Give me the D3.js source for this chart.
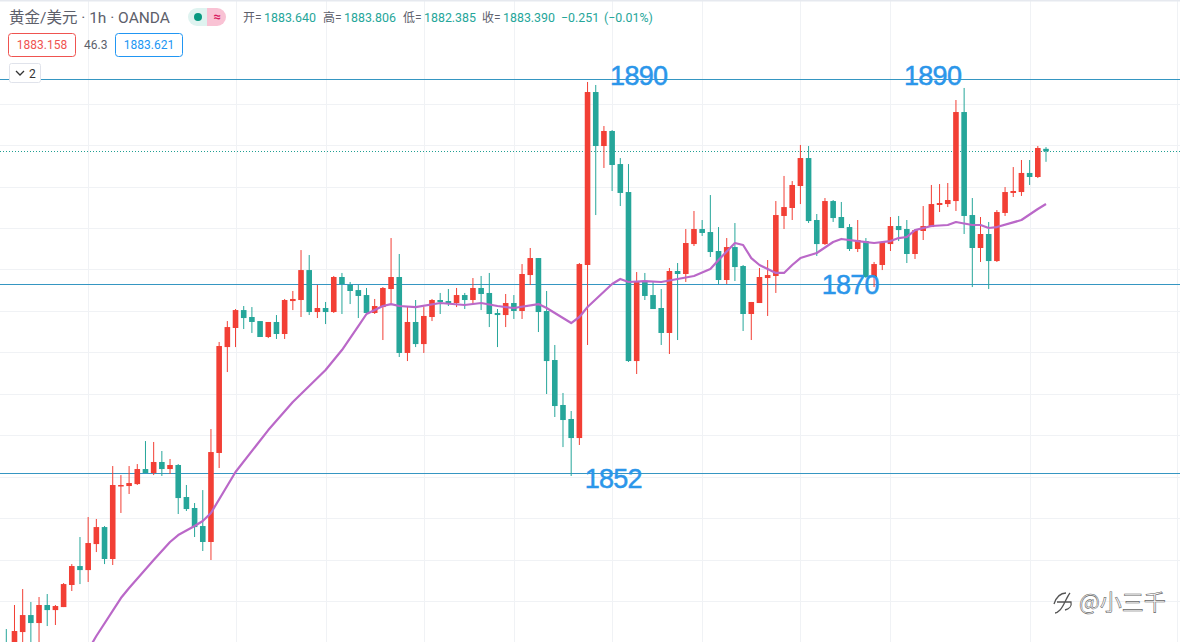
<!DOCTYPE html>
<html><head><meta charset="utf-8">
<style>html,body{margin:0;padding:0;background:#fff;overflow:hidden}svg{display:block}
text{font-family:Roboto,"Noto Sans CJK SC",sans-serif}</style>
<script src="https://cdn.jsdelivr.net/npm/d3@7/dist/d3.min.js"></script>
</head><body><svg id="c" width="1180" height="642"></svg>
<script>
const opens=[1835.85,1835.27,1837.01,1838.65,1837.88,1839.62,1839.13,1839.42,1841.55,1843.38,1842.99,1845.50,1847.14,1844.06,1851.10,1851.10,1851.29,1852.74,1852.36,1853.42,1852.74,1853.13,1850.04,1848.98,1847.24,1845.70,1854.29,1864.51,1866.35,1868.08,1867.41,1867.02,1865.48,1866.93,1865.77,1868.95,1869.05,1871.94,1867.89,1868.28,1867.89,1871.27,1870.50,1870.01,1869.53,1867.80,1868.37,1870.11,1871.27,1863.94,1866.93,1864.80,1867.41,1869.05,1868.95,1868.76,1869.53,1869.05,1870.21,1869.73,1867.80,1867.60,1868.76,1867.99,1871.46,1873.10,1867.99,1863.26,1858.92,1857.57,1855.73,1872.43,1889.12,1883.91,1885.36,1882.17,1879.47,1863.16,1870.79,1869.53,1868.28,1865.87,1871.85,1871.56,1874.45,1875.90,1875.61,1873.78,1870.98,1874.16,1872.33,1867.70,1868.76,1871.17,1871.37,1877.16,1877.93,1880.05,1882.75,1876.77,1874.45,1878.60,1877.06,1876.09,1873.97,1874.74,1871.27,1872.43,1874.45,1876.19,1875.90,1873.49,1875.71,1876.09,1878.22,1878.31,1878.60,1887.19,1877.25,1874.07,1875.42,1872.81,1877.45,1879.38,1879.47,1881.31,1880.92,1883.64];
const highs=[1837.30,1839.62,1841.16,1839.91,1840.39,1840.68,1839.62,1841.74,1843.57,1846.18,1848.11,1847.92,1847.24,1853.03,1852.16,1853.03,1853.22,1855.44,1855.35,1854.48,1853.71,1853.22,1851.20,1849.46,1850.71,1856.60,1865.00,1867.02,1868.18,1868.47,1868.37,1867.02,1866.93,1867.60,1869.15,1869.92,1873.87,1873.39,1870.50,1868.86,1871.37,1871.66,1870.79,1870.50,1870.21,1869.15,1870.30,1875.03,1873.49,1868.47,1869.05,1868.37,1869.15,1869.73,1870.11,1870.21,1869.73,1871.17,1871.37,1871.66,1868.18,1869.63,1869.53,1872.52,1874.07,1873.10,1869.92,1864.71,1860.08,1858.34,1872.62,1890.09,1889.80,1885.84,1885.45,1882.75,1882.17,1871.75,1871.66,1870.79,1870.11,1872.14,1872.62,1875.90,1877.64,1876.77,1879.18,1876.09,1875.03,1876.48,1872.43,1868.86,1872.14,1872.91,1878.60,1881.02,1880.53,1884.01,1883.91,1877.35,1878.89,1878.70,1878.51,1876.38,1876.77,1875.03,1872.72,1874.74,1877.06,1877.16,1876.77,1875.90,1878.12,1880.15,1880.24,1880.34,1888.35,1889.51,1878.89,1877.06,1876.58,1877.73,1879.95,1881.88,1882.56,1882.56,1883.91,1883.806];
const lows=[1834.50,1834.79,1835.27,1835.76,1835.47,1837.59,1837.69,1839.42,1840.97,1841.64,1841.84,1844.73,1843.57,1843.48,1848.50,1850.33,1851.20,1852.36,1852.16,1852.07,1852.26,1848.40,1848.69,1846.18,1844.83,1843.96,1852.84,1862.10,1864.51,1866.25,1865.87,1865.48,1865.38,1865.29,1865.29,1868.08,1867.41,1867.60,1867.31,1866.73,1867.80,1867.70,1868.66,1867.31,1867.60,1867.70,1865.19,1868.57,1863.55,1863.16,1864.51,1863.94,1867.02,1867.70,1868.47,1868.37,1868.18,1868.66,1868.08,1866.44,1864.51,1866.44,1867.22,1867.22,1870.50,1865.96,1859.98,1857.76,1854.86,1852.07,1855.06,1864.71,1877.25,1881.79,1879.57,1878.12,1863.07,1861.91,1869.05,1868.18,1864.71,1863.84,1865.19,1870.79,1874.26,1875.23,1873.20,1870.59,1870.59,1870.88,1866.06,1865.19,1868.76,1867.51,1869.73,1875.90,1876.77,1878.31,1876.48,1873.30,1874.36,1876.58,1876.00,1873.78,1873.68,1871.17,1870.30,1871.94,1873.78,1874.74,1872.62,1873.01,1874.84,1876.09,1877.54,1878.02,1877.64,1875.42,1870.30,1872.72,1870.11,1872.72,1877.16,1878.99,1879.09,1880.15,1880.82,1882.385];
const closes=[1835.27,1837.11,1838.65,1837.88,1839.62,1839.13,1839.52,1841.64,1843.38,1842.99,1845.60,1847.14,1844.06,1851.20,1851.20,1851.39,1852.74,1852.36,1853.42,1852.74,1853.13,1849.94,1848.88,1847.14,1845.70,1854.38,1864.61,1866.44,1868.08,1867.31,1866.93,1865.48,1866.93,1865.77,1869.05,1869.15,1871.94,1867.89,1868.28,1867.89,1871.27,1870.59,1869.92,1869.44,1867.80,1868.47,1870.21,1871.27,1863.94,1866.93,1864.80,1867.51,1869.05,1868.86,1868.76,1869.53,1869.05,1870.21,1869.63,1867.70,1867.60,1868.76,1867.99,1871.56,1873.10,1867.89,1863.16,1858.82,1857.47,1855.73,1872.52,1889.12,1883.91,1885.36,1882.08,1879.38,1863.16,1870.88,1869.44,1868.18,1865.87,1871.85,1871.56,1874.55,1875.90,1875.52,1873.68,1870.98,1874.16,1872.23,1867.70,1868.86,1871.27,1871.46,1877.25,1878.02,1880.15,1882.75,1876.67,1874.45,1878.60,1876.96,1876.00,1873.97,1874.84,1871.27,1872.52,1874.65,1876.19,1875.80,1873.49,1875.80,1876.19,1878.31,1878.41,1878.70,1887.19,1877.16,1874.07,1875.42,1872.81,1877.54,1879.47,1879.57,1881.31,1880.92,1883.72,1883.39];
const maIndex=[10,11,14,15,18,20,21,23,24,25,28,32,35,38,39,41,43,44,46,47,48,50,53,56,58,60,62,65,66,69,70,71,74,75,76,78,80,82,84,86,87,89,90,91,92,94,95,96,97,99,101,102,104,106,108,109,110,111,113,115,116,118,119,120,121,124,126,127];
const maValue=[1835.27,1836.63,1840.29,1841.26,1843.96,1845.70,1846.37,1847.24,1847.72,1848.50,1852.45,1856.50,1859.21,1861.52,1862.29,1864.22,1866.54,1867.70,1868.47,1868.66,1868.47,1868.37,1868.76,1868.57,1868.76,1868.47,1868.28,1868.66,1868.28,1866.83,1867.41,1868.37,1870.59,1871.08,1870.79,1870.88,1870.79,1871.08,1871.37,1872.04,1872.91,1874.55,1874.36,1873.10,1872.43,1871.66,1871.66,1872.43,1873.10,1873.59,1874.65,1874.94,1874.74,1874.55,1874.74,1875.03,1875.13,1875.80,1876.19,1876.29,1876.58,1876.29,1876.29,1876.00,1876.09,1876.77,1877.83,1878.31];
const levelPrices=[1890.38,1870.59,1852.35];
const lastClose=1883.39;
const gridPrices=[1888,1884,1880,1876,1872,1868,1864,1860,1856,1852,1848,1844,1840];
const gridIndex=[10,28,39,51,62,74,85,97,108,125,143];
const levelLabels=["1890","1890","1870","1852"];
const levelLabelIndex=[73.75,109.65,99.6,70.65];
const levelLabelPrice=[1889.78,1889.83,1869.62,1850.92];
const legendValues=["1883.640","1883.806","1882.385","1883.390"];
const legendTags=["开","高","低","收"];

const W=1180,H=642;
const UP="#f23f35",DOWN="#26a69a",MA="#ba68c8",LEVEL="#3596c2",LABEL="#2b96ea";
const x=d3.scaleLinear().domain([0,127]).range([6.3,1046]);
const y=d3.scaleLinear().domain([1898,1836.05]).range([0,H]);
const svg=d3.select("#c");
const clipped=svg.append("g");

clipped.append("g").selectAll("line").data(gridPrices).join("line")
 .attr("x1",0).attr("x2",W).attr("y1",d=>Math.round(y(d))+.5).attr("y2",d=>Math.round(y(d))+.5)
 .attr("stroke","#f0f2f5").attr("stroke-width",1);
clipped.append("g").selectAll("line").data(gridIndex).join("line")
 .attr("y1",0).attr("y2",H).attr("x1",d=>Math.round(x(d))+.5).attr("x2",d=>Math.round(x(d))+.5)
 .attr("stroke","#f0f2f5").attr("stroke-width",1);
svg.append("rect").attr("width",W).attr("height",1.5).attr("fill","#e6e9ef");

clipped.append("g").selectAll("line").data(levelPrices).join("line")
 .attr("x1",0).attr("x2",W).attr("y1",d=>Math.round(y(d))+.5).attr("y2",d=>Math.round(y(d))+.5)
 .attr("stroke",LEVEL).attr("stroke-width",1);
clipped.append("line").attr("x1",0).attr("x2",W)
 .attr("y1",Math.round(y(lastClose))+.5).attr("y2",Math.round(y(lastClose))+.5)
 .attr("stroke","#1f9f92").attr("stroke-width",1).attr("stroke-dasharray","1 2");

const rows=d3.range(opens.length).map(i=>({i,o:opens[i],h:highs[i],l:lows[i],c:closes[i],up:closes[i]>=opens[i]}));
const cg=clipped.append("g");
cg.selectAll("line").data(rows).join("line")
 .attr("x1",d=>x(d.i)).attr("x2",d=>x(d.i)).attr("y1",d=>y(d.h)).attr("y2",d=>y(d.l))
 .attr("stroke",d=>d.up?UP:DOWN).attr("stroke-width",1);
cg.selectAll("rect").data(rows).join("rect")
 .attr("x",d=>x(d.i)-2.8).attr("width",5.6)
 .attr("y",d=>y(Math.max(d.o,d.c))).attr("height",d=>Math.max(1.5,Math.abs(y(d.o)-y(d.c))))
 .attr("fill",d=>d.up?UP:DOWN);

const maPts=maIndex.map((v,k)=>[x(v),y(maValue[k])]);
clipped.append("path").attr("d",d3.line()(maPts))
 .attr("fill","none").attr("stroke",MA).attr("stroke-width",2.2).attr("stroke-linejoin","round");

svg.append("g").selectAll("text").data(levelLabels).join("text")
 .attr("x",(d,i)=>x(levelLabelIndex[i])).attr("y",(d,i)=>y(levelLabelPrice[i]))
 .text(d=>d).attr("fill",LABEL).attr("stroke",LABEL).attr("stroke-width",.5)
 .style("font-family","'Liberation Sans',Arial,sans-serif").style("font-size","27px").style("letter-spacing","-0.7px");

// legend
const lg=svg.append("g");
const legendInk="#5d606b";
lg.append("text").attr("x",9).attr("y",23).text("黄金/美元 · 1h · OANDA")
 .attr("fill",legendInk).style("font-size","15.5px");
lg.append("path").attr("d","M197 8 H207 V26 H197 A9 9 0 0 1 197 8 Z").attr("fill","#dff3f0");
lg.append("path").attr("d","M207 8 H217 A9 9 0 0 1 217 26 H207 Z").attr("fill","#f9c2d4");
lg.append("circle").attr("cx",198).attr("cy",17).attr("r",4).attr("fill","#089981");
lg.append("text").attr("x",217).attr("y",21).attr("text-anchor","middle").text("≈")
 .attr("fill","#d81b60").style("font-size","13px").style("font-weight","700");
const tagX=[243,323,403,482], valX=[264,344,424,503];
legendTags.forEach((t,i)=>{
 lg.append("text").attr("x",tagX[i]).attr("y",22).text(t+"=").attr("fill",legendInk).style("font-size","12px");
 lg.append("text").attr("x",valX[i]).attr("y",22).text(legendValues[i]).attr("fill",DOWN).style("font-size","12.4px");
});
lg.append("text").attr("x",561).attr("y",22).text("−0.251").attr("fill",DOWN).style("font-size","12.4px");
lg.append("text").attr("x",604).attr("y",22).text("(−0.01%)").attr("fill",DOWN).style("font-size","12.4px");

lg.append("rect").attr("x",8.5).attr("y",33.5).attr("width",67).attr("height",23).attr("rx",3)
 .attr("fill","#fff").attr("stroke","#ef5350");
lg.append("text").attr("x",42).attr("y",49).attr("text-anchor","middle").text("1883.158").attr("fill","#ef5350").style("font-size","12px");
lg.append("text").attr("x",84).attr("y",49).text("46.3").attr("fill",legendInk).style("font-size","12px");
lg.append("rect").attr("x",115.5).attr("y",33.5).attr("width",67).attr("height",23).attr("rx",3)
 .attr("fill","#fff").attr("stroke","#2196f3");
lg.append("text").attr("x",149).attr("y",49).attr("text-anchor","middle").text("1883.621").attr("fill","#2196f3").style("font-size","12px");

lg.append("rect").attr("x",9.5).attr("y",63.5).attr("width",31).attr("height",19).attr("rx",2)
 .attr("fill","#fff").attr("stroke","#e0e3eb");
lg.append("path").attr("d","M16 71 L20 75 L24 71").attr("fill","none").attr("stroke","#333").attr("stroke-width",1.3);
lg.append("text").attr("x",29).attr("y",78).text("2").attr("fill","#333").style("font-size","12px");

// watermark
const wm=svg.append("g");
wm.append("path").attr("d","M1054 604 C1056 598 1060 593 1066 593 M1070 593 C1066 598 1064 606 1060 610 C1058 612 1056 613 1055 613 M1057 602 H1071 C1072 606 1069 609 1065 610")
 .attr("fill","none").attr("stroke","#555").attr("stroke-width",1.3);
wm.append("text").attr("x",1079).attr("y",610).text("@小三千")
 .style("font-family","'Noto Sans CJK SC',sans-serif").style("font-size","22px")
 .attr("fill","#fff").attr("stroke","#666").attr("stroke-width",.6);
</script></body></html>
